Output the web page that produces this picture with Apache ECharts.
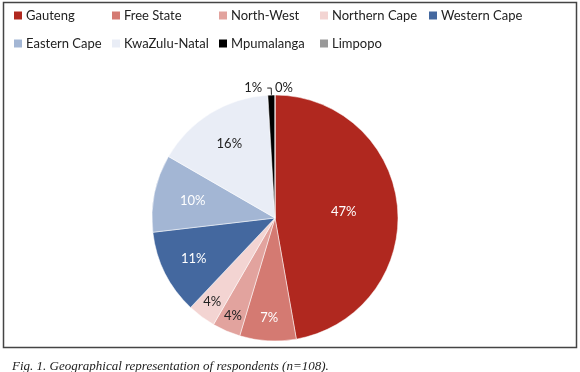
<!DOCTYPE html>
<html>
<head>
<meta charset="utf-8">
<script src="https://cdn.jsdelivr.net/npm/echarts@6/dist/echarts.min.js"></script>
<style>
html, body { margin: 0; padding: 0; background: #fff; }
#main { width: 580px; height: 372px; }
</style>
</head>
<body>
<div id="main"></div>
<script>
// respondents per province (n=108)
var provinces = ['Gauteng', 'Free State', 'North-West', 'Northern Cape', 'Western Cape',
	'Eastern Cape', 'KwaZulu-Natal', 'Mpumalanga', 'Limpopo'];
var respondents = [51, 8, 4, 4, 12, 11, 17, 1, 0];
var sliceColors = ['#b0281f', '#d47a72', '#e2a39e', '#f3d4d2', '#44689f',
	'#a3b6d4', '#e9edf6', '#000000', '#999999'];
var labelColors = ['#fff', '#fff', '#222', '#222', '#fff', '#fff', '#222', '#222', '#222'];
// how far from the centre each inside label sits (null = outside label)
var labelRadius = [66, 97, 103, 102, 88, 81, 84, null, null];

var font = 'Lato, "Open Sans", sans-serif';
var pieRadius = 123;

// legend grid positions
var legendCols = [12, 110, 217, 318, 427];
var legendRows = [9, 37];

var legends = [];
for (var i = 0; i < provinces.length; i++) {
	legends.push({
		data: [provinces[i]],
		left: legendCols[i % 5],
		top: legendRows[Math.floor(i / 5)],
		padding: 0,
		itemWidth: 10,
		itemHeight: 10,
		icon: 'rect',
		selectedMode: false,
		textStyle: { fontFamily: font, fontSize: 13, color: '#222', padding: [0, 0, 0, -2] }
	});
}

var total = 0;
for (var i = 0; i < respondents.length; i++) total += respondents[i];

var data = [];
var acc = 0;
for (var i = 0; i < provinces.length; i++) {
	var mid = (acc + respondents[i] / 2) / total * Math.PI * 2;
	acc += respondents[i];
	var item = {
		name: provinces[i],
		value: respondents[i],
		itemStyle: { color: sliceColors[i] },
		label: { color: labelColors[i] }
	};
	if (labelRadius[i] === null) {
		item.label.position = 'outside';
		item.labelLine = { show: respondents[i] > 0, length: 7, length2: 4, lineStyle: { color: '#222', width: 1 } };
	} else {
		var shift = labelRadius[i] - pieRadius / 2;
		item.label.offset = [shift * Math.sin(mid), -shift * Math.cos(mid)];
	}
	data.push(item);
}

var chart = echarts.init(document.getElementById('main'));
chart.setOption({
	animation: false,
	title: {
		text: 'Fig. 1. Geographical representation of respondents (n=108).',
		left: 7,
		top: 355,
		textStyle: {
			fontFamily: '"Liberation Serif", "DejaVu Serif", serif',
			fontStyle: 'italic',
			fontWeight: 'normal',
			fontSize: 13,
			color: '#222'
		}
	},
	legend: legends,
	graphic: [{
		type: 'rect',
		shape: { x: 3.5, y: 2.5, width: 573, height: 345 },
		style: { fill: 'none', stroke: '#444', lineWidth: 1.5 },
		silent: true
	}],
	series: [{
		type: 'pie',
		center: [275, 218],
		radius: pieRadius,
		startAngle: 90,
		clockwise: true,
		percentPrecision: 0,
		avoidLabelOverlap: false,
		// the empty slice's label goes to the right of the top, the 1% one to the left
		labelLayout: function (params) {
			if (params.dataIndex === provinces.length - 1) {
				return { dx: 27, hideOverlap: false };
			}
			return { hideOverlap: false };
		},
		itemStyle: { borderColor: '#fff', borderWidth: 0.5 },
		label: {
			show: true,
			position: 'inside',
			formatter: '{d}%',
			fontFamily: font,
			fontSize: 13
		},
		labelLine: { show: false },
		data: data
	}]
});
</script>
</body>
</html>
